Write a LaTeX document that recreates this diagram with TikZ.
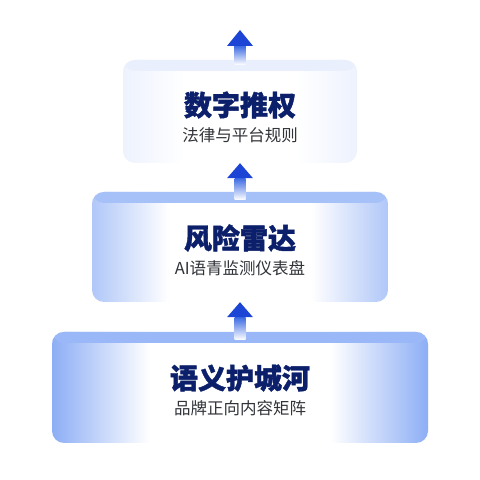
\documentclass[tikz,border=0pt]{standalone}
\usepackage{fontspec}
\usetikzlibrary{calc}
\setmainfont{Noto Sans CJK SC}
\newfontfamily\cjk{Noto Sans CJK SC}[BoldFeatures={FakeBold=1.4}]

\definecolor{arrowblue}{HTML}{1C45D6}
\definecolor{shaftblue}{HTML}{3D6BE3}
\definecolor{titlenavy}{HTML}{0B1F6B}
\definecolor{subgray}{HTML}{303338}
\definecolor{edgeA}{HTML}{EDF2FD}
\definecolor{bandA}{HTML}{E9EFFC}
\definecolor{edgeB}{HTML}{B0C7F8}
\definecolor{bandB}{HTML}{A6C0F8}
\definecolor{edgeC}{HTML}{8DAEF5}
\definecolor{bandC}{HTML}{9AB8F7}

\pgfdeclarehorizontalshading{shadeA}{100bp}{color(0bp)=(edgeA); color(25bp)=(edgeA); color(38bp)=(white); color(62bp)=(white); color(75bp)=(edgeA); color(100bp)=(edgeA)}
\pgfdeclarehorizontalshading{shadeB}{100bp}{color(0bp)=(edgeB); color(25bp)=(edgeB); color(38bp)=(white); color(62bp)=(white); color(75bp)=(edgeB); color(100bp)=(edgeB)}
\pgfdeclarehorizontalshading{shadeC}{100bp}{color(0bp)=(edgeC); color(25bp)=(edgeC); color(38bp)=(white); color(62bp)=(white); color(75bp)=(edgeC); color(100bp)=(edgeC)}

\tikzset{
  layer/.style 2 args={rectangle, rounded corners=12pt, shading=#1, inner sep=0pt,
    path picture={\fill[#2] (path picture bounding box.north west) rectangle ([yshift=-11pt]path picture bounding box.north east);}},
  title/.style={font=\cjk\bfseries\fontsize{28}{30}\selectfont, text=titlenavy, inner sep=0pt},
  subtitle/.style={font=\cjk\fontsize{16.5}{18}\selectfont, text=subgray, inner sep=0pt},
  shaft/.style={top color=shaftblue, bottom color=white},
  head/.style={fill=arrowblue}
}

\begin{document}
\begin{tikzpicture}[x=1pt, y=1pt]
  \useasboundingbox[fill=white] (0,0) rectangle (480,480);

  % the three layers
  \node[layer={shadeA}{bandA}, minimum width=234pt, minimum height=103pt] (rights) at (240,368.5) {};
  \node[layer={shadeB}{bandB}, minimum width=296pt, minimum height=110pt] (radar) at (240,233) {};
  \node[layer={shadeC}{bandC}, minimum width=376pt, minimum height=111pt] (moat) at (240,92.5) {};

  \node[title] (rightsT) at (240,375) {数字推权};
  \node[subtitle] (rightsS) at (240,345) {法律与平台规则};
  \node[title] (radarT) at (240,242) {风险雷达};
  \node[subtitle] (radarS) at (240,212) {AI语青监测仪表盘};
  \node[title] (moatT) at (240,102) {语义护城河};
  \node[subtitle] (moatS) at (240,72) {品牌正向内容矩阵};

  \coordinate (goal) at (240,450);

  % arrows
  \shade[shaft] ($(moat.north)+(-5.5,-8)$) rectangle ($(radar.south)+(5.5,-15)$);
  \fill[head] (radar.south) -- ++(13,-15) -- ++(-26,0) -- cycle;
  \shade[shaft] ($(radar.north)+(-5.5,-8)$) rectangle ($(rights.south)+(5.5,-15)$);
  \fill[head] (rights.south) -- ++(13,-15) -- ++(-26,0) -- cycle;
  \shade[shaft] ($(rights.north)+(-5.5,-5)$) rectangle ($(goal)+(5.5,-16)$);
  \fill[head] (goal) -- ++(13,-16) -- ++(-26,0) -- cycle;
\end{tikzpicture}
\end{document}
